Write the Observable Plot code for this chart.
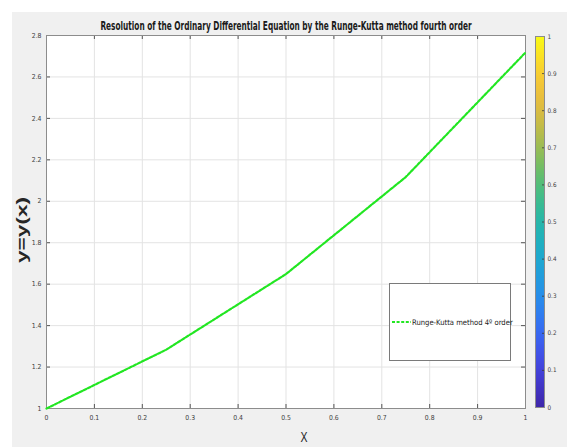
<!DOCTYPE html>
<html>
<head>
<meta charset="utf-8">
<script src="https://cdn.jsdelivr.net/npm/d3@7"></script>
<script src="https://cdn.jsdelivr.net/npm/@observablehq/plot@0.6"></script>
<style>
  html, body { margin: 0; padding: 0; background: #ffffff; }
  #fig { position: relative; width: 567px; height: 447px; overflow: hidden; }
  #bg { position: absolute; left: 12px; top: 12px; width: 555px; height: 435px; background: #f0f0f0; }
  #main, #cbar { position: absolute; top: 0; }
  #main { left: 0; }
  #cbar { left: 533px; }
  #legend { position: absolute; left: 389px; top: 283px; width: 122px; height: 78px;
            background: #fff; border: 1px solid #7a7a7a; box-sizing: border-box;
            display: flex; align-items: center; padding-left: 2px;
            font-family: "Liberation Sans Narrow", "DejaVu Sans Condensed", "Liberation Sans", sans-serif;
            font-size: 7.6px; color: #1a1a1a; white-space: nowrap; }
  #legend svg { flex-shrink: 0; margin-right: 1px; }
</style>
</head>
<body>
<div id="fig">
  <div id="bg"></div>
  <div id="main"></div>
  <div id="cbar"></div>
  <div id="legend"></div>
</div>
<script>
// Data: RK4 solution nodes (h = 0.25)
const xs = [0, 0.25, 0.5, 0.75, 1];
const ys = [1, 1.284, 1.6487, 2.117, 2.718];
const xTicks = [0, 0.1, 0.2, 0.3, 0.4, 0.5, 0.6, 0.7, 0.8, 0.9, 1];
const yTicks = [1, 1.2, 1.4, 1.6, 1.8, 2, 2.2, 2.4, 2.6, 2.8];
const cTicks = [0, 0.1, 0.2, 0.3, 0.4, 0.5, 0.6, 0.7, 0.8, 0.9, 1];
const parulaStops = ["#3e26a8", "#4747eb", "#2f7ff7", "#1ca5d9", "#1fb8ae", "#5cc06a", "#c5b945", "#fdbd3c", "#f9fb15"];
const titleText = "Resolution of the Ordinary Differential Equation by the Runge-Kutta method fourth order";
const seriesName = "Runge-Kutta method 4º order";
const xLabel = "X";
const yLabel = "y=y(x)";

const data = xs.map((x, i) => ({x, y: ys[i]}));
const W = 567, H = 447;
const mL = 46, mT = 35, mR = 42, mB = 39;
const pw = W - mL - mR, ph = H - mT - mB;
const narrow = '"Liberation Sans Narrow", "DejaVu Sans Condensed", "Liberation Sans", sans-serif';
const green = "#22e622";
const dash = "3,1.6";
const axisColor = "#8c8c8c";
const tickColor = "#555555";
const fmt = d3.format("~g");

const main = Plot.plot({
  width: W, height: H,
  marginLeft: mL, marginTop: mT, marginRight: mR, marginBottom: mB,
  style: {background: "transparent", fontFamily: narrow, fontSize: "6.8px", color: "#404040", overflow: "visible"},
  x: {domain: [0, 1]},
  y: {domain: [1, 2.8]},
  marks: [
    Plot.frame({fill: "white", stroke: null}),
    Plot.gridX(xTicks, {stroke: "#e3e3e3", strokeOpacity: 1}),
    Plot.gridY(yTicks, {stroke: "#e3e3e3", strokeOpacity: 1}),
    Plot.tickX(xTicks, {x: d => d, insetTop: ph - 4, stroke: tickColor}),
    Plot.tickX(xTicks, {x: d => d, insetBottom: ph - 4, stroke: tickColor}),
    Plot.tickY(yTicks, {y: d => d, insetRight: pw - 4, stroke: tickColor}),
    Plot.tickY(yTicks, {y: d => d, insetLeft: pw - 4, stroke: tickColor}),
    Plot.frame({stroke: axisColor, strokeWidth: 1}),
    Plot.axisX(xTicks, {tickSize: 0, tickPadding: 7, tickFormat: fmt, label: null, fill: "#404040"}),
    Plot.axisY(yTicks, {tickSize: 0, tickPadding: 5, tickFormat: fmt, label: null, fill: "#404040"}),
    Plot.line(data, {x: "x", y: "y", stroke: green, strokeWidth: 2.2, strokeDasharray: dash}),
    Plot.text([titleText], {frameAnchor: "top", lineAnchor: "bottom", dy: -6, fontSize: 11.5, fontWeight: "bold", fill: "#1a1a1a", fontFamily: narrow, className: "ttl"}),
    Plot.text([xLabel], {frameAnchor: "bottom", lineAnchor: "middle", dy: 29, dx: 18, fontSize: 15, fill: "#262626", fontFamily: "Liberation Sans, sans-serif", className: "xlab"}),
    Plot.text([yLabel], {frameAnchor: "left", textAnchor: "middle", lineAnchor: "middle", dx: -24, dy: 8, rotate: -90, fontSize: 14, fontWeight: "bold", fill: "#262626", fontFamily: "Liberation Sans, sans-serif", className: "ylab"})
  ]
});
d3.select(main).selectAll("g.xlab text").attr("textLength", 7).attr("lengthAdjust", "spacingAndGlyphs");
d3.select(main).selectAll("g.ylab text").attr("textLength", 66).attr("lengthAdjust", "spacingAndGlyphs");
document.getElementById("main").appendChild(main);

// condense the title horizontally (like the reference's narrow font) around the plot centre
{
  const g = main.querySelector("g.ttl");
  const t = g && g.querySelector("text");
  if (t) {
    const len = t.getComputedTextLength();
    const s = Math.min(1, 372 / len);
    const cx = mL + pw / 2;
    const prev = g.getAttribute("transform") || "";
    g.setAttribute("transform", `${prev} translate(${cx},0) scale(${s},1) translate(${-cx},0)`);
  }
}

// Colorbar
const cbW = 34, cbL = 2, cbR = 23;
const cbar = Plot.plot({
  width: cbW, height: H,
  marginLeft: cbL, marginRight: cbR, marginTop: mT + 1, marginBottom: mB + 1,
  style: {background: "transparent", fontFamily: narrow, fontSize: "6.3px", color: "#404040", overflow: "visible"},
  x: {domain: [0, 1], axis: null},
  y: {domain: [0, 1], axis: null},
  color: {type: "linear", domain: [0, 1], interpolate: d3.interpolateRgbBasis(parulaStops)},
  marks: [
    Plot.raster({fill: (x, y) => y, x1: 0, x2: 1, y1: 0, y2: 1, width: 1, height: 200, imageRendering: "auto"}),
    Plot.tickY(cTicks.slice(1, -1), {y: d => d, insetLeft: 7, stroke: "#3a3a3a", strokeWidth: 0.8}),
    Plot.frame({stroke: axisColor}),
    Plot.axisY(cTicks, {anchor: "right", tickSize: 0, tickPadding: 3, tickFormat: fmt, label: null, fill: "#404040"})
  ]
});
document.getElementById("cbar").appendChild(cbar);

// Legend
const leg = document.getElementById("legend");
leg.innerHTML = `<svg width="19" height="6"><line x1="0" y1="3" x2="19" y2="3" stroke="${green}" stroke-width="2" stroke-dasharray="${dash}"/></svg><span>${seriesName}</span>`;
</script>
</body>
</html>
